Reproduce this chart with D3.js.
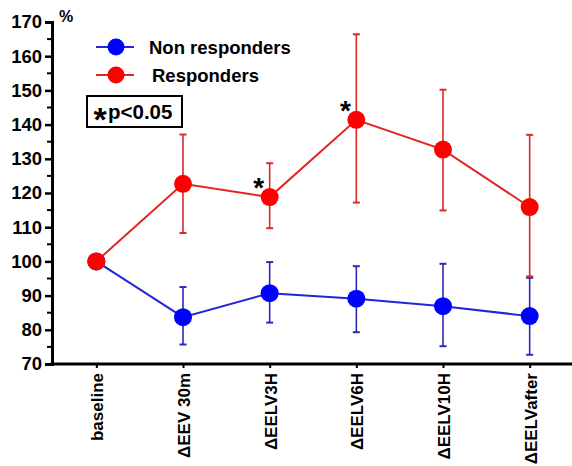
<!DOCTYPE html>
<html>
<head>
<meta charset="utf-8">
<script src="https://cdn.jsdelivr.net/npm/d3@7"></script>
<style>
  body { margin: 0; background: #fff; }
  svg { display: block; font-family: "Liberation Sans", Arial, sans-serif; }
</style>
</head>
<body>
<svg id="chart" width="572" height="466"></svg>
<script>
// categories (x axis)
var categories = ['baseline', '\u0394EEV 30m', '\u0394EELV3H', '\u0394EELV6H', '\u0394EELV10H', '\u0394EELVafter'];

// Non responders (blue): mean, upper, lower error bar ends
var nonMean  = [100, 83.7, 90.7, 89.1, 86.9, 84.0];
var nonUpper = [100, 92.5, 99.8, 98.6, 99.3, 95.2];
var nonLower = [100, 75.7, 82.1, 79.3, 75.2, 72.7];

// Responders (red)
var resMean  = [100, 122.7, 118.8, 141.4, 132.7, 115.9];
var resUpper = [100, 137.1, 128.7, 166.4, 150.2, 137.0];
var resLower = [100, 108.3, 109.7, 117.2, 114.9, 95.6];

// significance markers (category index, on responders)
var sigMarks = [2, 3];

var yTicks = [70, 80, 90, 100, 110, 120, 130, 140, 150, 160, 170];

var svg = d3.select('#chart');

var x = d3.scalePoint().domain(categories).range([53, 573]).padding(0.5);
var y = d3.scaleLinear().domain([70, 170]).range([364, 22]);

// axes
var yAxis = d3.axisLeft(y).tickValues(yTicks).tickSize(7).tickPadding(3);
var gy = svg.append('g').attr('transform', 'translate(52,0)').call(yAxis);
gy.select('.domain').attr('stroke-width', 3);
gy.selectAll('.tick line').attr('stroke-width', 2.5);
gy.selectAll('.tick text').attr('font-size', 18.5).attr('font-weight', 'bold').attr('fill', '#000');

// minor ticks
svg.append('g').selectAll('line')
  .data(d3.range(75, 170, 10))
  .join('line')
    .attr('x1', 47).attr('x2', 52)
    .attr('y1', function(d) { return y(d); })
    .attr('y2', function(d) { return y(d); })
    .attr('stroke', '#000').attr('stroke-width', 2);

var xAxis = d3.axisBottom(x).tickSize(4).tickSizeOuter(0).tickFormat('');
var gx = svg.append('g').attr('transform', 'translate(0,364)').call(xAxis);
gx.select('.domain').attr('stroke-width', 3).attr('d', 'M50.5,0H572');
gx.selectAll('.tick line').attr('stroke-width', 2);

// x labels, rotated
svg.append('g').selectAll('text')
  .data(categories)
  .join('text')
    .attr('transform', function(d) { return 'translate(' + (x(d) + 7) + ',373) rotate(-90)'; })
    .attr('text-anchor', 'end')
    .attr('font-size', 17)
    .attr('font-weight', 'bold')
    .text(function(d) { return d; });

// % label
svg.append('text').attr('x', 59).attr('y', 22)
  .attr('font-size', 16).attr('font-weight', 'bold').text('%');

function drawSeries(mean, upper, lower, lineColor, barColor, dotColor) {
  var g = svg.append('g');
  var pts = categories.map(function(c, i) {
    return {c: c, m: mean[i], u: upper[i], l: lower[i]};
  });
  var bars = g.selectAll('g.bar').data(pts).join('g').attr('class', 'bar');
  bars.append('line')
    .attr('x1', function(d) { return x(d.c); }).attr('x2', function(d) { return x(d.c); })
    .attr('y1', function(d) { return y(d.u); }).attr('y2', function(d) { return y(d.l); })
    .attr('stroke', barColor).attr('stroke-width', 1.6);
  ['u', 'l'].forEach(function(k) {
    bars.append('line')
      .attr('x1', function(d) { return x(d.c) - 3.5; }).attr('x2', function(d) { return x(d.c) + 3.5; })
      .attr('y1', function(d) { return y(d[k]); }).attr('y2', function(d) { return y(d[k]); })
      .attr('stroke', barColor).attr('stroke-width', 2);
  });
  g.append('path')
    .datum(pts)
    .attr('fill', 'none').attr('stroke', lineColor).attr('stroke-width', 2)
    .attr('d', d3.line().x(function(d) { return x(d.c); }).y(function(d) { return y(d.m); }));
  g.selectAll('circle').data(pts).join('circle')
    .attr('cx', function(d) { return x(d.c); })
    .attr('cy', function(d) { return y(d.m); })
    .attr('r', 9)
    .attr('fill', dotColor);
}

drawSeries(nonMean, nonUpper, nonLower, '#2424d8', '#2a2ab8', '#0000ff');
drawSeries(resMean, resUpper, resLower, '#e52424', '#d82a2a', '#ff0000');

// significance asterisks
svg.append('g').selectAll('text')
  .data(sigMarks)
  .join('text')
    .attr('x', function(i) { return x(categories[i]) - 11; })
    .attr('y', function(i) { return y(resMean[i]); })
    .attr('text-anchor', 'middle')
    .attr('font-size', 28).attr('font-weight', 'bold')
    .text('*');

// legend
var legend = [
  {name: 'Non responders', line: '#2424d8', dot: '#0000ff', y: 47, tx: 149},
  {name: 'Responders', line: '#e52424', dot: '#ff0000', y: 75, tx: 152}
];
var lg = svg.append('g').selectAll('g').data(legend).join('g');
lg.append('line').attr('x1', 96).attr('x2', 134)
  .attr('y1', function(d) { return d.y; }).attr('y2', function(d) { return d.y; })
  .attr('stroke', function(d) { return d.line; }).attr('stroke-width', 2);
lg.append('circle').attr('cx', 116).attr('cy', function(d) { return d.y; }).attr('r', 8.5)
  .attr('fill', function(d) { return d.dot; });
lg.append('text').attr('x', function(d) { return d.tx; }).attr('y', function(d) { return d.y + 6.5; })
  .attr('font-size', 18.5).attr('font-weight', 'bold')
  .text(function(d) { return d.name; });

// p-value box
svg.append('rect').attr('x', 87).attr('y', 96).attr('width', 95).attr('height', 31)
  .attr('fill', 'none').attr('stroke', '#000').attr('stroke-width', 2);
svg.append('text').attr('x', 100).attr('y', 131).attr('text-anchor', 'middle')
  .attr('font-size', 34).attr('font-weight', 'bold').text('*');
svg.append('text').attr('x', 108).attr('y', 119)
  .attr('font-size', 20.5).attr('font-weight', 'bold').text('p<0.05');
</script>
</body>
</html>
